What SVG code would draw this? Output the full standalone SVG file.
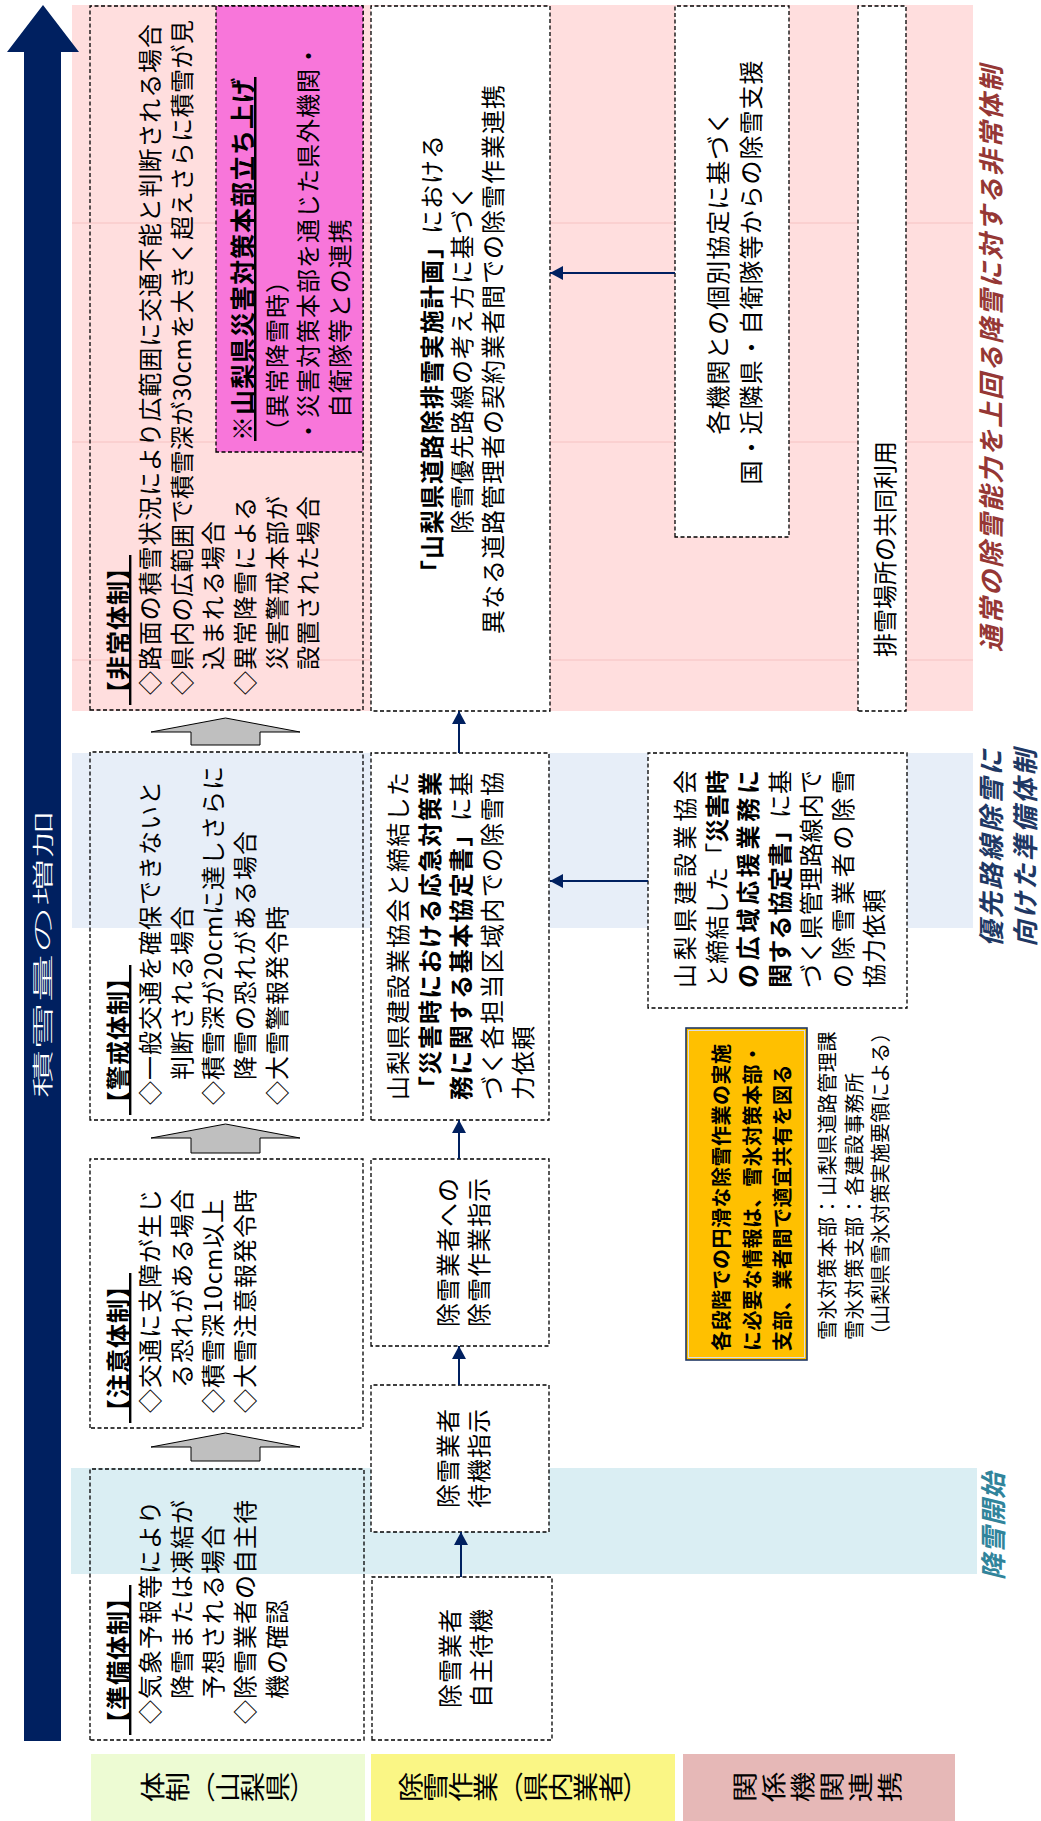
<svg xmlns="http://www.w3.org/2000/svg" width="1041" height="1821" viewBox="0 0 1041 1821">
<defs>
<style>
.t{font-family:"Noto Sans CJK JP","Noto Sans",sans-serif;font-size:24px;fill:#000;letter-spacing:1px}
.b{font-weight:bold}
.u{text-decoration:underline}
.m{text-anchor:middle}
.j{letter-spacing:0}
.box{fill:none;stroke:#000;stroke-width:1.3;stroke-dasharray:4 2.5}
.wbox{fill:#fff;stroke:#000;stroke-width:1.3;stroke-dasharray:4 2.5}
.con{stroke:#002060;stroke-width:2;fill:none;marker-end:url(#ah)}
.ga{fill:#BFBFBF;stroke:#000;stroke-width:1}
.lab{font-family:"Noto Sans CJK JP","Noto Sans",sans-serif;font-size:25px;fill:#000;writing-mode:vertical-rl;text-anchor:middle}
.ph{font-family:"Noto Sans CJK JP","Noto Sans",sans-serif;font-size:26px;font-weight:bold;font-style:italic;text-anchor:middle;letter-spacing:2px}
.sm{font-size:20px;letter-spacing:0.6px}
.pl{stroke:#F6C2C2;stroke-width:1}
</style>
<marker id="ah" markerUnits="userSpaceOnUse" markerWidth="14" markerHeight="14" refX="13" refY="7" orient="auto"><path d="M0,0 L13,7 L0,14 z" fill="#002060"/></marker>
</defs>
<rect width="1041" height="1821" fill="#fff"/>
<g transform="translate(0,1821) rotate(-90)">
<g id="bands">
<rect x="1110" y="72" width="706" height="901" fill="#FFDEDE"/>
<line class="pl" x1="1161" y1="72" x2="1161" y2="973"/>
<line class="pl" x1="1379" y1="72" x2="1379" y2="973"/>
<line class="pl" x1="1598" y1="72" x2="1598" y2="973"/>
<rect x="893" y="72" width="175" height="901" fill="#E7EEF8"/>
<rect x="247" y="71" width="106" height="906" fill="#DAEEF3"/>
</g>
<g id="snow-arrow">
<polygon points="80,24 1769,24 1769,7 1816,43 1769,79 1769,61 80,61" fill="#002060"/>
<text class="t m" x="867" y="50" textLength="288" lengthAdjust="spacingAndGlyphs" style="fill:#fff;font-size:21px;letter-spacing:0;font-weight:300">積雪量の増加</text>
</g>
<g id="row-labels">
<rect x="0" y="91" width="67" height="274" fill="#EDFBD3"/>
<text class="lab" x="34" y="228" transform="matrix(1.22,0,0,1,-7.5,0)">体制（山梨県）</text>
<rect x="0" y="371" width="67" height="304" fill="#FAF685"/>
<text class="lab" x="34" y="523" transform="matrix(1.22,0,0,1,-7.5,0)">除雪作業（県内業者）</text>
<rect x="0" y="683" width="67" height="272" fill="#E6B8B7"/>
<text class="lab" x="34" y="819" transform="matrix(1.22,0,0,1,-7.5,0)" style="letter-spacing:4px">関係機関連携</text>
</g>
<g id="phase-labels">
<text class="ph" x="1463" y="1001" fill="#953735">通常の除雪能力を上回る降雪に対する非常体制</text>
<text class="ph" x="974" y="1001" fill="#1F3864" style="letter-spacing:2.5px">優先路線除雪に</text>
<text class="ph" x="974" y="1035" fill="#1F3864" style="letter-spacing:2.5px">向けた準備体制</text>
<text class="ph" x="295" y="1003" fill="#31849B" style="letter-spacing:1px">降雪開始</text>
</g>
<g id="block-arrows">
<polygon class="ga" points="360,191 374,191 374,151 388,225.5 374,300 374,260 360,260"/>
<polygon class="ga" points="668,191 683,191 683,151 697,225.5 683,300 683,260 668,260"/>
<polygon class="ga" points="1076,191 1089,191 1089,151 1103,225.5 1089,300 1089,260 1076,260"/>
</g>
<g id="hijo">
<rect class="box" x="1111" y="90" width="704" height="273"/>
<text class="t b u" x="1116" y="127">【非常体制】</text>
<text class="t" x="1126" y="159" textLength="672" lengthAdjust="spacing">◇路面の積雪状況により広範囲に交通不能と判断される場合</text>
<text class="t" x="1126" y="191" textLength="676" lengthAdjust="spacing">◇県内の広範囲で積雪深が30cmを大きく超えさらに積雪が見</text>
<text class="t" x="1151" y="222">込まれる場合</text>
<text class="t" x="1126" y="254">◇異常降雪による</text>
<text class="t" x="1151" y="286">災害警戒本部が</text>
<text class="t" x="1151" y="317">設置された場合</text>
</g>
<g id="saigai-honbu">
<rect x="1369" y="216" width="446" height="147" fill="#F876DA" stroke="#000" stroke-width="1.3" stroke-dasharray="4 2.5"/>
<text class="t b u" x="1380" y="252" style="font-size:25px">※山梨県災害対策本部立ち上げ</text>
<text class="t" x="1378" y="286">（異常降雪時）</text>
<text class="t" x="1378" y="317">・災害対策本部を通じた県外機関・</text>
<text class="t" x="1403" y="349">自衛隊等との連携</text>
</g>
<g id="keikai">
<rect class="box" x="701" y="90" width="368" height="273"/>
<text class="t b u" x="706" y="127">【警戒体制】</text>
<text class="t" x="716" y="159">◇一般交通を確保できないと</text>
<text class="t" x="741" y="191">判断される場合</text>
<text class="t" x="716" y="222">◇積雪深が20cmに達しさらに</text>
<text class="t" x="741" y="254">降雪の恐れがある場合</text>
<text class="t" x="716" y="286">◇大雪警報発令時</text>
</g>
<g id="chui">
<rect class="box" x="393" y="90" width="269" height="273"/>
<text class="t b u" x="398" y="127">【注意体制】</text>
<text class="t" x="408" y="159">◇交通に支障が生じ</text>
<text class="t" x="433" y="191">る恐れがある場合</text>
<text class="t" x="408" y="222">◇積雪深10cm以上</text>
<text class="t" x="408" y="254">◇大雪注意報発令時</text>
</g>
<g id="junbi">
<rect class="box" x="81" y="90" width="271" height="274"/>
<text class="t b u" x="86" y="127">【準備体制】</text>
<text class="t" x="97" y="159">◇気象予報等により</text>
<text class="t" x="122" y="191">降雪または凍結が</text>
<text class="t" x="122" y="222">予想される場合</text>
<text class="t" x="97" y="254">◇除雪業者の自主待</text>
<text class="t" x="122" y="286">機の確認</text>
</g>
<g id="jijo-plan">
<rect class="wbox" x="1110" y="371" width="705" height="179"/>
<text class="t m" x="1462" y="441"><tspan class="b">「山梨県道路除排雪実施計画」</tspan>における</text>
<text class="t m" x="1462" y="471">除雪優先路線の考え方に基づく</text>
<text class="t m" x="1462" y="502">異なる道路管理者の契約業者間での除雪作業連携</text>
</g>
<g id="kensetsu-kyotei">
<rect class="wbox" x="701" y="371" width="367" height="178"/>
<text class="t j" x="721" y="407" textLength="328" lengthAdjust="spacing">山梨県建設業協会と締結した</text>
<text class="t j b" x="721" y="439" textLength="328" lengthAdjust="spacing">「災害時における応急対策業</text>
<text class="t j" x="721" y="470" textLength="328" lengthAdjust="spacing"><tspan class="b">務に関する基本協定書」</tspan>に基</text>
<text class="t j" x="721" y="501" textLength="328" lengthAdjust="spacing">づく各担当区域内での除雪協</text>
<text class="t" x="721" y="532">力依頼</text>
</g>
<g id="sagyo-shiji">
<rect class="wbox" x="475" y="371" width="187" height="178"/>
<text class="t m" x="569" y="457">除雪業者への</text>
<text class="t m" x="569" y="488">除雪作業指示</text>
</g>
<g id="taiki-shiji">
<rect class="wbox" x="289" y="371" width="147" height="178"/>
<text class="t m" x="363" y="457">除雪業者</text>
<text class="t m" x="363" y="488">待機指示</text>
</g>
<g id="jishu-taiki">
<rect class="wbox" x="81" y="372" width="163" height="180"/>
<text class="t m" x="163" y="459">除雪業者</text>
<text class="t m" x="163" y="490">自主待機</text>
</g>
<g id="kobetsu-kyotei">
<rect class="wbox" x="1284" y="675" width="531" height="114"/>
<text class="t m" x="1549" y="727">各機関との個別協定に基づく</text>
<text class="t m" x="1549" y="760">国・近隣県・自衛隊等からの除雪支援</text>
</g>
<g id="koiki-oen">
<rect class="wbox" x="813" y="648" width="255" height="259"/>
<text class="t j" x="833" y="694" textLength="218" lengthAdjust="spacing">山梨県建設業協会</text>
<text class="t j" x="833" y="726" textLength="218" lengthAdjust="spacing">と締結した「<tspan class="b">災害時</tspan></text>
<text class="t j b" x="833" y="757" textLength="218" lengthAdjust="spacing">の広域応援業務に</text>
<text class="t j" x="833" y="789" textLength="218" lengthAdjust="spacing"><tspan class="b">関する協定書」</tspan>に基</text>
<text class="t j" x="833" y="820" textLength="218" lengthAdjust="spacing">づく県管理路線内で</text>
<text class="t j" x="833" y="852" textLength="218" lengthAdjust="spacing">の除雪業者の除雪</text>
<text class="t" x="833" y="883">協力依頼</text>
</g>
<g id="haisetsu">
<rect class="wbox" x="1110" y="858" width="705" height="48"/>
<text class="t j" x="1164" y="894">排雪場所の共同利用</text>
</g>
<g id="info-share">
<rect x="461" y="686" width="332" height="121" fill="#FFC000" stroke="#203864" stroke-width="1.6"/>
<rect x="463.5" y="688.5" width="327" height="116" fill="none" stroke="#D8DCE8" stroke-width="1"/>
<text class="t b sm" x="470" y="729" style="letter-spacing:0.5px">各段階での円滑な除雪作業の実施</text>
<text class="t b sm" x="470" y="760" style="letter-spacing:0.5px">に必要な情報は、雪氷対策本部・</text>
<text class="t b sm" x="470" y="790" style="letter-spacing:0.5px">支部、業者間で適宜共有を図る</text>
</g>
<g id="note">
<text class="t sm" x="481" y="835">雪氷対策本部：山梨県道路管理課</text>
<text class="t sm" x="481" y="862">雪氷対策支部：各建設事務所</text>
<text class="t sm" x="476" y="888" style="letter-spacing:0.2px">（山梨県雪氷対策実施要領による）</text>
</g>
<g id="connectors">
<line class="con" x1="244" y1="461" x2="289" y2="461"/>
<line class="con" x1="436" y1="459" x2="475" y2="459"/>
<line class="con" x1="662" y1="459" x2="701" y2="459"/>
<line class="con" x1="1068" y1="459" x2="1110" y2="459"/>
<line class="con" x1="940" y1="648" x2="940" y2="550"/>
<line class="con" x1="1548" y1="675" x2="1548" y2="550"/>
</g>
</g>
</svg>
